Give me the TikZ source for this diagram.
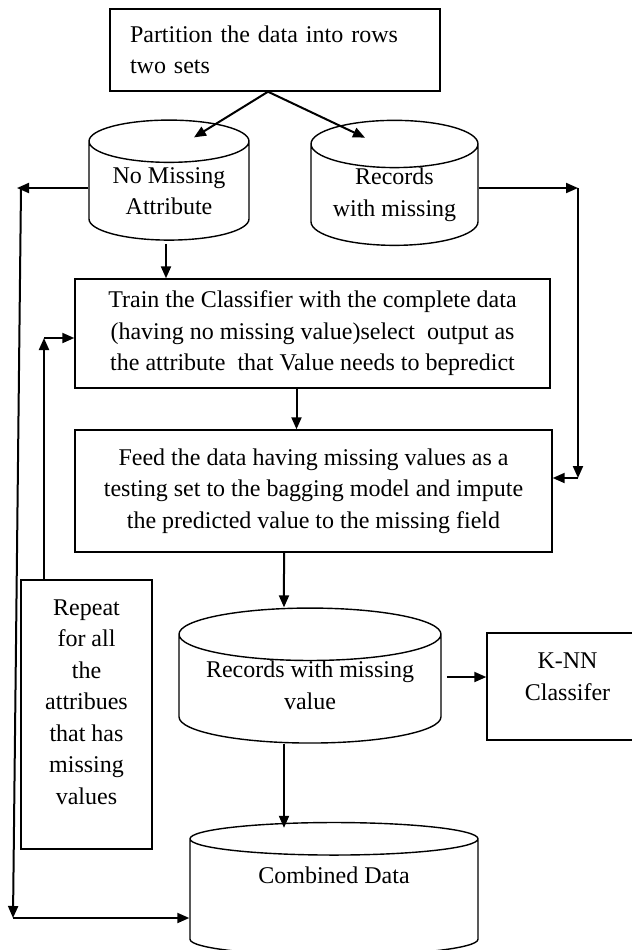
\documentclass[tikz,border=0pt]{standalone}
\usepackage{fontspec}
\setmainfont{Liberation Serif}
\usetikzlibrary{shapes.geometric,arrows.meta,calc}
\tikzset{
  boxnode/.style={draw,line width=0.7pt,inner sep=0pt,align=center,font=\fontsize{12pt}{15.75pt}\selectfont},
  drum/.style={draw,line width=0.7pt,cylinder,shape border rotate=90,inner sep=0pt,align=center,font=\fontsize{12pt}{15.75pt}\selectfont},
  arr/.style={line width=1pt,-{Triangle[length=6pt,width=5pt]}},
}
\begin{document}
\begin{tikzpicture}[x=0.5pt,y=-0.5pt]
      \useasboundingbox (0,0) rectangle (632,950);%

      \node[boxnode,minimum width=165pt,minimum height=41pt,text width=145pt,align=left] (part) at (275,50) {Partition the data into rows\\two sets};%

      \node[drum,minimum width=80pt,minimum height=60pt,aspect=0.375] (nomiss) at (169,191) {No Missing\\Attribute};%
      \node[drum,minimum width=83.5pt,minimum height=62.5pt,aspect=0.383] (recmiss) at (394.5,195) {Records\\with missing};%

      \node[boxnode,minimum width=237.5pt,minimum height=54.5pt] (train) at (312.5,333.5) {Train the Classifier with the complete data\\(having no missing value)select\ \ output as\\the attribute\ \ that Value needs to bepredict};%
      \node[boxnode,minimum width=238.5pt,minimum height=61pt] (feed) at (313.5,491) {Feed the data having missing values as a\\testing set to the bagging model and impute\\the predicted value to the missing field};%

      \node[drum,minimum width=131pt,minimum height=63.5pt,aspect=0.252] (recval) at (310,689) {Records with missing\\value\\[-12pt]~};%
      \node[boxnode,minimum width=80.5pt,minimum height=53.5pt] (knn) at (567.5,686.5) {K-NN\\Classifer\\[-5.75pt]~};%
      \node[boxnode,minimum width=65.5pt,minimum height=134.5pt] (repeat) at (86.5,714.5) {Repeat\\for all\\the\\attribues\\that has\\missing\\values\\[-3.25pt]~};%
      \node[drum,minimum width=144pt,minimum height=66.5pt,aspect=0.215] (combined) at (334,897.5) {Combined Data\\[6.75pt]~};%

      \coordinate (ltop) at (17,188);%
      \coordinate (lbot) at (13,918);%
      \coordinate (rtop) at (578,188);%
      \coordinate (rbot) at (578,478);%
      \coordinate (rpt) at (44,338);%
      \coordinate (kin) at ($(knn.west)+(0,-9.5)$);%

      \draw[arr] ($(part.south)+(-7,0)$) -- ($(nomiss.north)+(25,18)$);%
      \draw[arr] ($(part.south)+(-7,0)$) -- ($(recmiss.north)+(-29.5,18)$);%

      \draw[arr] ($(nomiss.south)+(-3,3)$) -- ($(nomiss.south |- train.north)+(-3,0)$);%
      \draw[arr] ($(train.south)+(-16,0)$) -- ($(feed.north)+(-17,0)$);%
      \draw[arr] ($(feed.south)+(-29.5,0)$) -- ($(recval.north)+(-26,0)$);%
      \draw[arr] ($(recval.south)+(-26,0)$) -- ($(combined.north)+(-50,6)$);%
      \draw[arr] ($(recval.east |- kin)+(5,0)$) -- (kin);%

      \draw[arr] (recmiss.east |- rtop) -- (rtop);%
      \draw[arr] (rtop) -- (rbot);%
      \draw[arr] (rbot) -- (rbot -| feed.east);%

      \draw[arr] (nomiss.west |- ltop) -- (ltop);%
      \draw[arr] ($(ltop)+(4,0)$) -- (lbot);%
      \draw[arr] (lbot) -- (lbot -| combined.west);%

      \draw[arr] (repeat.north -| rpt) -- (rpt);%
      \draw[arr] (rpt) -- (rpt -| train.west);%
\end{tikzpicture}
\end{document}
